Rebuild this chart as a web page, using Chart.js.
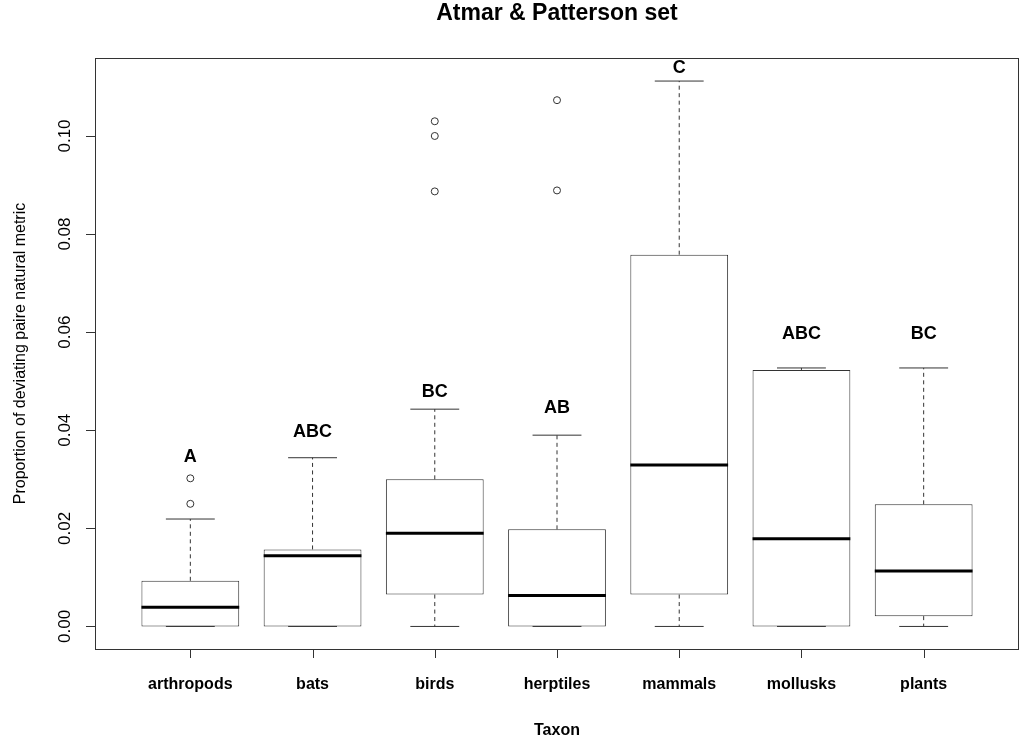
<!DOCTYPE html>
<html>
<head>
<meta charset="utf-8">
<script src="https://cdn.jsdelivr.net/npm/chart.js@4"></script>
<style>
  html, body { margin: 0; padding: 0; background: #fff; }
  #wrap { width: 1024px; height: 742px; }
</style>
</head>
<body>
<div id="wrap"><canvas id="c" width="1024" height="742"></canvas></div>
<script>
// ---- data ----
const categories = ['arthropods', 'bats', 'birds', 'herptiles', 'mammals', 'mollusks', 'plants'];
const whiskerLow  = [0, 0, 0, 0, 0, 0, 0];
const q1          = [0, 0, 0.0065, 0, 0.0065, 0, 0.0021];
const median      = [0.0039, 0.0144, 0.0190, 0.0063, 0.0329, 0.0179, 0.0113];
const q3          = [0.0093, 0.0157, 0.0300, 0.0198, 0.0758, 0.0523, 0.0249];
const whiskerHigh = [0.0219, 0.0344, 0.0443, 0.0390, 0.1112, 0.0527, 0.0527];
const outlierCat  = [0, 0, 2, 2, 2, 3, 3];   // index into categories
const outlierVal  = [0.0250, 0.0302, 0.0887, 0.1000, 0.1030, 0.0889, 0.1073];
const letters     = ['A', 'ABC', 'BC', 'AB', 'C', 'ABC', 'BC'];
const letterY     = [0.0345, 0.0396, 0.0478, 0.0445, 0.1139, 0.0596, 0.0596];
const yTicks      = [0, 0.02, 0.04, 0.06, 0.08, 0.10];
const yTickLabels = ['0.00', '0.02', '0.04', '0.06', '0.08', '0.10'];
const titleText   = 'Atmar & Patterson set';
const xTitle      = 'Taxon';
const yTitle      = 'Proportion of deviating paire natural metric';

const LINE = '#333';

const boxPlugin = {
  id: 'boxExtras',
  afterDatasetsDraw(chart) {
    const ctx = chart.ctx;
    const xs = chart.scales.x, ys = chart.scales.y;
    const bars = chart.getDatasetMeta(0).data;
    ctx.save();
    for (let i = 0; i < categories.length; i++) {
      const cx = xs.getPixelForValue(i + 1);
      const w = bars[i].width;
      const capHalf = w / 4;
      const pq1 = ys.getPixelForValue(q1[i]);
      const pq3 = ys.getPixelForValue(q3[i]);
      const plo = ys.getPixelForValue(whiskerLow[i]);
      const phi = ys.getPixelForValue(whiskerHigh[i]);
      // dashed whiskers
      ctx.strokeStyle = LINE;
      ctx.lineWidth = 1;
      ctx.setLineDash([4, 3.5]);
      ctx.beginPath();
      if (phi < pq3) { ctx.moveTo(cx, pq3); ctx.lineTo(cx, phi); }
      if (plo > pq1) { ctx.moveTo(cx, pq1); ctx.lineTo(cx, plo); }
      ctx.stroke();
      ctx.setLineDash([]);
      // caps
      ctx.beginPath();
      ctx.moveTo(cx - capHalf, phi); ctx.lineTo(cx + capHalf, phi);
      ctx.moveTo(cx - capHalf, plo); ctx.lineTo(cx + capHalf, plo);
      ctx.stroke();
      // median
      const pm = ys.getPixelForValue(median[i]);
      ctx.strokeStyle = '#000';
      ctx.lineWidth = 3;
      ctx.beginPath();
      ctx.moveTo(cx - w / 2, pm); ctx.lineTo(cx + w / 2, pm);
      ctx.stroke();
      // letters
      ctx.fillStyle = '#000';
      ctx.font = 'bold 18px "Liberation Sans", Arial, sans-serif';
      ctx.textAlign = 'center';
      ctx.textBaseline = 'middle';
      ctx.fillText(letters[i], cx, ys.getPixelForValue(letterY[i]));
    }
    ctx.restore();
  },
  afterDraw(chart) {
    const ctx = chart.ctx;
    const a = chart.chartArea;
    const xs = chart.scales.x, ys = chart.scales.y;
    ctx.save();
    // frame
    ctx.strokeStyle = LINE;
    ctx.lineWidth = 1;
    ctx.strokeRect(Math.round(a.left) + 0.5, Math.round(a.top) + 0.5,
                   Math.round(a.right - a.left) - 1, Math.round(a.bottom - a.top));
    // x ticks + labels
    ctx.fillStyle = '#000';
    ctx.beginPath();
    for (let i = 0; i < categories.length; i++) {
      const px = Math.round(xs.getPixelForValue(i + 1)) + 0.5;
      ctx.moveTo(px, a.bottom); ctx.lineTo(px, a.bottom + 9);
    }
    ctx.stroke();
    ctx.font = 'bold 16px "Liberation Sans", Arial, sans-serif';
    ctx.textAlign = 'center';
    ctx.textBaseline = 'alphabetic';
    for (let i = 0; i < categories.length; i++) {
      ctx.fillText(categories[i], xs.getPixelForValue(i + 1), 689);
    }
    // x title
    ctx.fillText(xTitle, (a.left + a.right) / 2, 735);
    // y ticks + labels
    ctx.beginPath();
    for (let i = 0; i < yTicks.length; i++) {
      const py = Math.round(ys.getPixelForValue(yTicks[i])) + 0.5;
      ctx.moveTo(a.left, py); ctx.lineTo(a.left - 9, py);
    }
    ctx.stroke();
    ctx.font = '17px "Liberation Sans", Arial, sans-serif';
    for (let i = 0; i < yTicks.length; i++) {
      ctx.save();
      ctx.translate(70, ys.getPixelForValue(yTicks[i]));
      ctx.rotate(-Math.PI / 2);
      ctx.textAlign = 'center';
      ctx.textBaseline = 'alphabetic';
      ctx.fillText(yTickLabels[i], 0, 0);
      ctx.restore();
    }
    // y title
    ctx.save();
    ctx.font = '16px "Liberation Sans", Arial, sans-serif';
    ctx.translate(25, (a.top + a.bottom) / 2);
    ctx.rotate(-Math.PI / 2);
    ctx.textAlign = 'center';
    ctx.textBaseline = 'alphabetic';
    ctx.fillText(yTitle, 0, 0);
    ctx.restore();
    // main title
    ctx.font = 'bold 23px "Liberation Sans", Arial, sans-serif';
    ctx.textAlign = 'center';
    ctx.textBaseline = 'alphabetic';
    ctx.fillText(titleText, (a.left + a.right) / 2, 20);
    ctx.restore();
  }
};

new Chart(document.getElementById('c'), {
  type: 'bar',
  data: {
    datasets: [
      {
        type: 'bar',
        data: categories.map((c, i) => ({ x: i + 1, y: [q1[i], q3[i]] })),
        backgroundColor: '#ffffff',
        borderColor: LINE,
        borderWidth: 1,
        borderSkipped: false,
        categoryPercentage: 1.0,
        barPercentage: 0.8
      },
      {
        type: 'scatter',
        data: outlierCat.map((c, i) => ({ x: c + 1, y: outlierVal[i] })),
        pointRadius: 3.5,
        pointBackgroundColor: '#ffffff',
        pointBorderColor: LINE,
        pointBorderWidth: 1,
        showLine: false
      }
    ]
  },
  options: {
    responsive: false,
    animation: false,
    layout: { padding: { left: 95, right: 4, top: 58, bottom: 93 } },
    plugins: { legend: { display: false }, tooltip: { enabled: false }, title: { display: false } },
    scales: {
      x: { type: 'linear', min: 0.22, max: 7.78, offset: false, display: false,
           ticks: { stepSize: 1, includeBounds: false } },
      y: { type: 'linear', min: -0.0046, max: 0.1159, display: false }
    }
  },
  plugins: [boxPlugin]
});
</script>
</body>
</html>
